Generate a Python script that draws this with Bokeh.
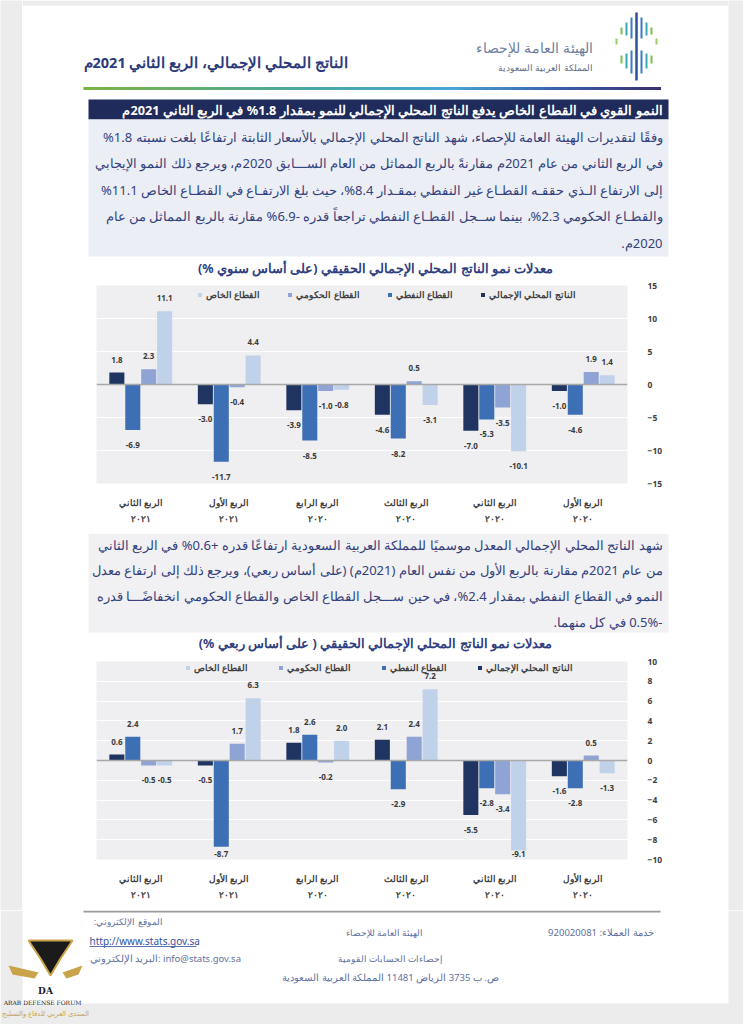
import numpy as np
from bokeh.plotting import figure
from bokeh.models import (ColumnDataSource, Legend, LegendItem, Span, FactorRange,
                          Range1d, FixedTicker, LabelSet)
from bokeh.transform import dodge
from bokeh.layouts import column, row
from bokeh.embed import file_html
from bokeh.resources import INLINE
from bokeh.core.properties import value

FONT = "Noto Sans"
RLM = "\u200f"


def rtl(s):
    return RLM + s + RLM


# ---------------- data ----------------
quarters = ["الربع الثاني", "الربع الأول", "الربع الرابع", "الربع الثالث", "الربع الثاني", "الربع الأول"]
years = ["٢٠٢١", "٢٠٢١", "٢٠٢٠", "٢٠٢٠", "٢٠٢٠", "٢٠٢٠"]
series_names = ["الناتج المحلي الإجمالي", "القطاع النفطي", "القطاع الحكومي", "القطاع الخاص"]

annual_gdp = [1.8, -3.0, -3.9, -4.6, -7.0, -1.0]
annual_oil = [-6.9, -11.7, -8.5, -8.2, -5.3, -4.6]
annual_gov = [2.3, -0.4, -1.0, 0.5, -3.5, 1.9]
annual_private = [11.1, 4.4, -0.8, -3.1, -10.1, 1.4]

qoq_gdp = [0.6, -0.5, 1.8, 2.1, -5.5, -1.6]
qoq_oil = [2.4, -8.7, 2.6, -2.9, -2.8, -2.8]
qoq_gov = [-0.5, 1.7, -0.2, 2.4, -3.4, 0.5]
qoq_private = [-0.5, 6.3, 2.0, 7.2, -9.1, -1.3]

annual_ticks = [-15, -10, -5, 0, 5, 10, 15]
qoq_ticks = [-10, -8, -6, -4, -2, 0, 2, 4, 6, 8, 10]

page_title = "الناتج المحلي الإجمالي، الربع الثاني 2021م"
org_name = "الهيئة العامة للإحصاء"
org_country = "المملكة العربية السعودية"
headline = "النمو القوي في القطاع الخاص يدفع الناتج المحلي الإجمالي للنمو بمقدار 1.8% في الربع الثاني 2021م"
para1 = [
    "وفقًا لتقديرات الهيئة العامة للإحصاء، شهد الناتج المحلي الإجمالي بالأسعار الثابتة ارتفاعًا بلغت نسبته 1.8%",
    "في الربع الثاني من عام 2021م مقارنةً بالربع المماثل من العام الســـابق 2020م، ويرجع ذلك النمو الإيجابي",
    "إلى الارتفاع الـذي حققـه القطـاع غير النفطي بمقـدار 8.4%، حيث بلغ الارتفـاع في القطـاع الخاص 11.1%",
    "والقطـاع الحكومي 2.3%، بينما ســجل القطـاع النفطي تراجعاً قدره -6.9% مقارنة بالربع المماثل من عام",
    "2020م.",
]
chart1_title = "معدلات نمو الناتج المحلي الإجمالي الحقيقي (على أساس سنوي %)"
para2 = [
    "شهد الناتج المحلي الإجمالي المعدل موسميًا للمملكة العربية السعودية ارتفاعًا قدره +0.6% في الربع الثاني",
    "من عام 2021م مقارنة بالربع الأول من نفس العام (2021م) (على أساس ربعي)، ويرجع ذلك إلى ارتفاع معدل",
    "النمو في القطاع النفطي بمقدار 2.4%، في حين ســـجل القطاع الخاص والقطاع الحكومي انخفاضًـــا قدره",
    "-0.5% في كل منهما.",
]
chart2_title = "معدلات نمو الناتج المحلي الإجمالي الحقيقي ( على أساس ربعي %)"

# ---------------- styles ----------------
BAR_COLORS = ["#1f3461", "#3d6fb4", "#8fa3d5", "#bfd2ea"]
OFFSETS = [-0.27, -0.09, 0.09, 0.27]
GRAY_BG = "#ececec"
TEXT_BLUE = "#34427c"
LABEL_COL = "#3a3a3a"


def page_fig(y0, y1, x0=22, x1=728):
    p = figure(width=x1 - x0, height=y1 - y0, x_range=Range1d(x0, x1), y_range=Range1d(y1, y0),
               output_backend="svg", toolbar_location=None, min_border=0)
    p.xaxis.visible = False
    p.yaxis.visible = False
    p.grid.visible = False
    p.outline_line_color = None
    p.background_fill_color = "white"
    p.border_fill_color = "white"
    return p


def txt(p, x, y, s, size="12px", color=TEXT_BLUE, align="right", bold=False):
    p.text(x=[x], y=[y], text=[rtl(s)], text_align=align, text_baseline="middle",
           text_font=value(FONT), text_font_size=size, text_color=color,
           text_font_style="bold" if bold else "normal")


def make_chart(values, ticks, ymin, ymax, height, top, bottom, legend_loc, legend_spacing, clamp):
    factors = [f"{q}\n{y}" for q, y in zip(quarters, years)]
    p = figure(x_range=FactorRange(factors=factors), y_range=Range1d(ymin, ymax),
               width=706, height=height, output_backend="svg", toolbar_location=None,
               min_border_left=74, min_border_right=101, min_border_top=top, min_border_bottom=bottom,
               y_axis_location="right")
    p.background_fill_color = "#efeff1"
    p.border_fill_color = "white"
    p.outline_line_color = None
    p.xgrid.grid_line_color = None
    p.ygrid.grid_line_color = "white"
    p.ygrid.grid_line_width = 1
    p.yaxis.ticker = FixedTicker(ticks=ticks)
    for ax in (p.xaxis[0], p.yaxis[0]):
        ax.axis_line_color = None
        ax.major_tick_line_color = None
        ax.minor_tick_line_color = None
        ax.major_label_text_font = FONT
        ax.major_label_text_font_style = "bold"
        ax.major_label_text_color = "#404040"
    p.yaxis.major_label_text_font_size = "8.5px"
    p.xaxis.major_label_text_font_size = "9px"
    p.yaxis.major_label_standoff = 14
    p.xaxis.major_label_standoff = 6
    p.xaxis.major_label_text_line_height = 1.25

    ppu = 198.0 / (ymax - ymin)
    data = dict(x=factors)
    renderers = []
    keys = ["gdp", "oil", "gov", "private"]
    for key, vals in zip(keys, values):
        data[key] = vals
        data[key + "_ly"] = [v + 13 / ppu if v >= 0 else max(v - 15 / ppu, ymin + clamp) for v in vals]
        data[key + "_txt"] = [f"{v:.1f}" for v in vals]
    src = ColumnDataSource(data)
    for key, off, col in zip(keys, OFFSETS, BAR_COLORS):
        r = p.vbar(x=dodge("x", off, range=p.x_range), top=key, width=0.17, source=src,
                   fill_color=col, line_color=None)
        renderers.append(r)
        p.add_layout(LabelSet(x=dodge("x", off, range=p.x_range), y=key + "_ly", text=key + "_txt",
                              source=src, text_align="center", text_baseline="middle",
                              text_font=value(FONT), text_font_size="8px", text_font_style="bold",
                              text_color=LABEL_COL))
    p.add_layout(Span(location=0, dimension="width", line_color="#a8a8a8", line_width=1.5))

    items = [LegendItem(label=series_names[i], renderers=[renderers[i]]) for i in (3, 2, 1, 0)]
    lg = Legend(items=items, orientation="horizontal", location=legend_loc, glyph_width=5,
                glyph_height=5, label_standoff=4, spacing=legend_spacing, padding=0, margin=0,
                border_line_color=None, background_fill_alpha=0, label_text_font=FONT,
                label_text_font_size="9px", label_text_font_style="bold", label_height=10,
                label_text_color="#404040")
    p.add_layout(lg)
    return p


# ---------------- header ----------------
head = page_fig(0, 278)
head.quad(left=[22], right=[728], top=[0], bottom=[5], fill_color=GRAY_BG, line_color=None)
logo = [
    (636, 12, 80, "#2d4f9e", 2.5),
    (631, 17, 38, "#3a7cc0", 2), (631, 50, 73, "#3a7cc0", 2),
    (641, 17, 38, "#3a7cc0", 2), (641, 50, 73, "#3a7cc0", 2),
    (626, 22, 35, "#36a9b9", 2), (626, 53, 68, "#36a9b9", 2),
    (646, 22, 35, "#36a9b9", 2), (646, 53, 68, "#36a9b9", 2),
    (621, 27, 34, "#7cc04b", 2), (621, 55, 63, "#7cc04b", 2),
    (651, 27, 34, "#7cc04b", 2), (651, 55, 63, "#7cc04b", 2),
    (616, 38, 44, "#9ccc65", 2), (656, 38, 44, "#9ccc65", 2),
]
head.segment(x0=[s[0] for s in logo], y0=[s[1] for s in logo], x1=[s[0] for s in logo],
             y1=[s[2] for s in logo], line_color=[s[3] for s in logo], line_width=[s[4] for s in logo])
txt(head, 592, 47, org_name, size="14px", color="#6f7f9f")
txt(head, 592, 67, org_country, size="9px", color="#5b6b8b")
txt(head, 83, 61, page_title, size="14.5px", color="#2b3a7a", align="left", bold=True)

gx = np.linspace(83, 660, 59)
stops_x = [83, 300, 450, 560, 660]
stops_rgb = np.array([[124, 179, 66], [74, 168, 160], [73, 166, 214], [59, 95, 168], [58, 47, 110]])
gcols = []
for xm in (gx[:-1] + gx[1:]) / 2:
    rgb = [int(np.interp(xm, stops_x, stops_rgb[:, k])) for k in range(3)]
    gcols.append("#%02x%02x%02x" % tuple(rgb))
head.quad(left=gx[:-1], right=gx[1:] + 0.5, top=86.5, bottom=89.5, fill_color=gcols, line_color=None)

head.quad(left=[88], right=[668], top=[99], bottom=[119], fill_color="#1f2b5b", line_color=None)
txt(head, 662, 109, headline, size="12.7px", color="white", bold=True)
head.quad(left=[88], right=[668], top=[119], bottom=[256], fill_color="#eceef5", line_color=None)
for i, line in enumerate(para1):
    txt(head, 662, 136 + i * 26.5, line, size="13px")
txt(head, 375, 268, chart1_title, size="12.5px", color="#2f4080", align="center", bold=True)

# ---------------- chart 1 ----------------
ch1 = make_chart([annual_gdp, annual_oil, annual_gov, annual_private], annual_ticks, -15, 15,
                 height=255, top=7, bottom=50, legend_loc=(101, 182), legend_spacing=27, clamp=0.8)

# ---------------- paragraph 2 ----------------
mid = page_fig(533, 652)
mid.quad(left=[88], right=[668], top=[533], bottom=[632], fill_color="#f1f1f3", line_color=None)
for i, line in enumerate(para2):
    txt(mid, 662, 544 + i * 25.7, line, size="13px")
txt(mid, 375, 643, chart2_title, size="12.5px", color="#2f4080", align="center", bold=True)

# ---------------- chart 2 ----------------
ch2 = make_chart([qoq_gdp, qoq_oil, qoq_gov, qoq_private], qoq_ticks, -10, 10,
                 height=258, top=9, bottom=51, legend_loc=(89, 185), legend_spacing=30, clamp=0.55)


# ---------------- side strips ----------------
def strip(w, h):
    s = figure(width=w, height=h, output_backend="svg", toolbar_location=None, min_border=0,
               x_range=Range1d(0, 1), y_range=Range1d(0, 1))
    s.xaxis.visible = False
    s.yaxis.visible = False
    s.grid.visible = False
    s.outline_line_color = None
    s.background_fill_color = GRAY_BG
    s.border_fill_color = GRAY_BG
    return s


left = strip(22, 910)
right = strip(15, 910)

# ---------------- footer ----------------
foot = page_fig(910, 1024, x0=0, x1=743)
foot.quad(left=[0, 728, 0], right=[22, 743, 743], top=[910, 910, 1003], bottom=[1024, 1024, 1024],
          fill_color=GRAY_BG, line_color=None)
foot.segment(x0=[83], y0=[911], x1=[660], y1=[911], line_color="#9a9a9a", line_width=2)
FC = "#5f70a0"
txt(foot, 162, 921, "الموقع الإلكتروني:", size="9px", color=FC)
foot.text(x=[89], y=[940], text=["http://www.stats.gov.sa"], text_align="left", text_baseline="middle",
          text_font=value(FONT), text_font_size="10px", text_color="#3451a0")
foot.segment(x0=[89], y0=[946], x1=[196], y1=[946], line_color="#3451a0", line_width=0.8)
txt(foot, 89, 958, "البريد الإلكتروني: info@stats.gov.sa", size="9.5px", color=FC, align="left")
txt(foot, 384, 932, "الهيئة العامة للإحصاء", size="9px", color=FC, align="center")
txt(foot, 653, 932, "خدمة العملاء: 920020081", size="9.5px", color=FC)
txt(foot, 390, 958, "إحصاءات الحسابات القومية", size="9px", color=FC, align="center")
txt(foot, 390, 977, "ص. ب 3735 الرياض 11481 المملكة العربية السعودية", size="9.5px", color=FC, align="center")

# watermark
foot.patch(x=[28, 72, 60, 50, 40], y=[940, 940, 958, 975, 958], fill_color="#1b1b1b", line_color="#c9a24a", line_width=2)
foot.patch(x=[8, 38, 34, 12], y=[965, 972, 978, 974], fill_color="#c9a24a", line_color=None)
foot.patch(x=[82, 62, 66, 78], y=[965, 972, 978, 974], fill_color="#c9a24a", line_color=None)
foot.text(x=[45], y=[990], text=["DA"], text_align="center", text_baseline="middle",
          text_font=value("DejaVu Serif"), text_font_size="9px", text_font_style="bold", text_color="#1b1b1b")
foot.text(x=[42], y=[1002], text=["ARAB DEFENSE FORUM"], text_align="center", text_baseline="middle",
          text_font=value("DejaVu Serif"), text_font_size="6px", text_color="#1b1b1b")
txt(foot, 45, 1013, "المنتدى العربي للدفاع والتسليح", size="6.5px", color="#c9a24a", align="center")

middle = column(row(head), row(ch1), row(mid), row(ch2))
layout = column(row(left, middle, right), foot)
open("out.html", "w").write(file_html(layout, INLINE))
